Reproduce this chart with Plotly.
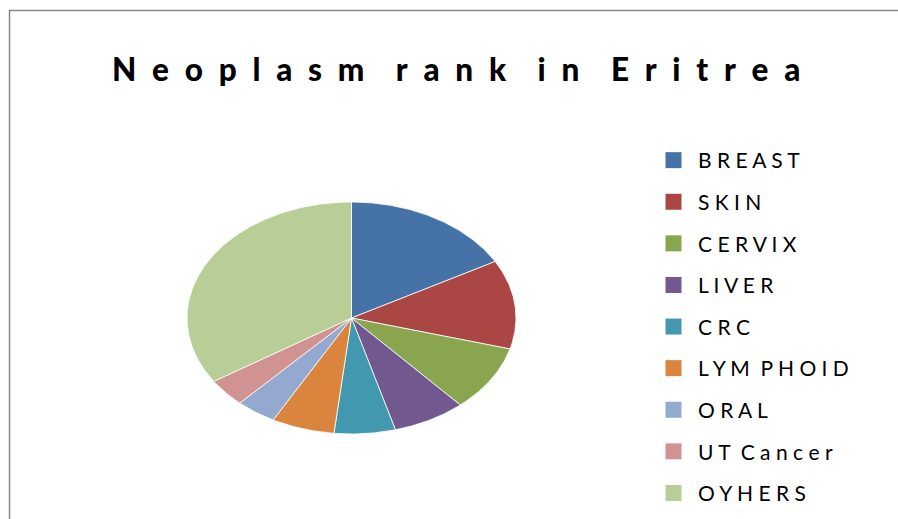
import numpy as np
import plotly.graph_objects as go

EN = "\u2002"
title_words = ["Neoplasm", "rank", "in", "Eritrea"]
categories = ["B R E A S T", "S K I N", "C E R V I X", "L I V E R", "C R C",
              "L Y M\u00a0\u00a0P H O I D", "O R A L", "U T\u00a0\u00a0C a n c e r", "O Y H E R S"]
values = [16.9, 12.4, 9.2, 7.2, 6.0, 6.2, 4.0, 3.9, 34.2]
colors = ["#4572A7", "#AA4643", "#89A54E", "#71588F", "#4198AF",
          "#DB843D", "#93A9CF", "#D19392", "#B9CD96"]

title_text = (EN * 2).join(EN.join(w) for w in title_words)

W, H = 898, 519
fig = go.Figure()

total = sum(values)
start = 0.0
for name, v, c in zip(categories, values, colors):
    a0 = start / total * 2 * np.pi
    a1 = (start + v) / total * 2 * np.pi
    t = np.linspace(a0, a1, max(int(v * 8), 12))
    xs = np.concatenate([[0], np.sin(t), [0]])
    ys = np.concatenate([[0], np.cos(t), [0]])
    fig.add_trace(go.Scatter(x=xs, y=ys, mode="lines", fill="toself",
                             fillcolor=c, line=dict(color="white", width=0.8),
                             showlegend=False, hoverinfo="text",
                             text=name.replace(" ", "").replace("\u00a0", " ")))
    start += v

for name, c in zip(categories, colors):
    fig.add_trace(go.Scatter(x=[None], y=[None], mode="markers", name=name,
                             legendgroup=name,
                             marker=dict(symbol="square", size=16, color=c)))

cx0, cx1 = 187, 516
cy0, cy1 = 202, 434
fig.update_layout(
    width=W, height=H,
    margin=dict(l=0, r=0, t=0, b=0, autoexpand=False),
    paper_bgcolor="white", plot_bgcolor="white",
    xaxis=dict(domain=[cx0 / W, cx1 / W], range=[-1, 1], visible=False, fixedrange=True),
    yaxis=dict(domain=[1 - cy1 / H, 1 - cy0 / H], range=[-1, 1], visible=False, fixedrange=True),
    legend=dict(x=649 / W, xanchor="left", y=1 - 140 / H, yanchor="top",
                font=dict(family="Lato", size=21, color="black"),
                tracegroupgap=11.3, itemsizing="trace", itemwidth=39,
                bgcolor="rgba(0,0,0,0)"),
    annotations=[dict(text=title_text, x=456 / W, y=1 - 69 / H,
                      xref="paper", yref="paper", showarrow=False,
                      xanchor="center", yanchor="middle",
                      font=dict(family="Lato", size=31.5, color="black", weight=900))],
    shapes=[dict(type="rect", xref="paper", yref="paper",
                 x0=9.5 / W, y0=1 - 10.5 / H, x1=1.2, y1=-0.2,
                 line=dict(color="#888888", width=1.5), fillcolor="rgba(0,0,0,0)")],
)

fig.write_html("out.html")
